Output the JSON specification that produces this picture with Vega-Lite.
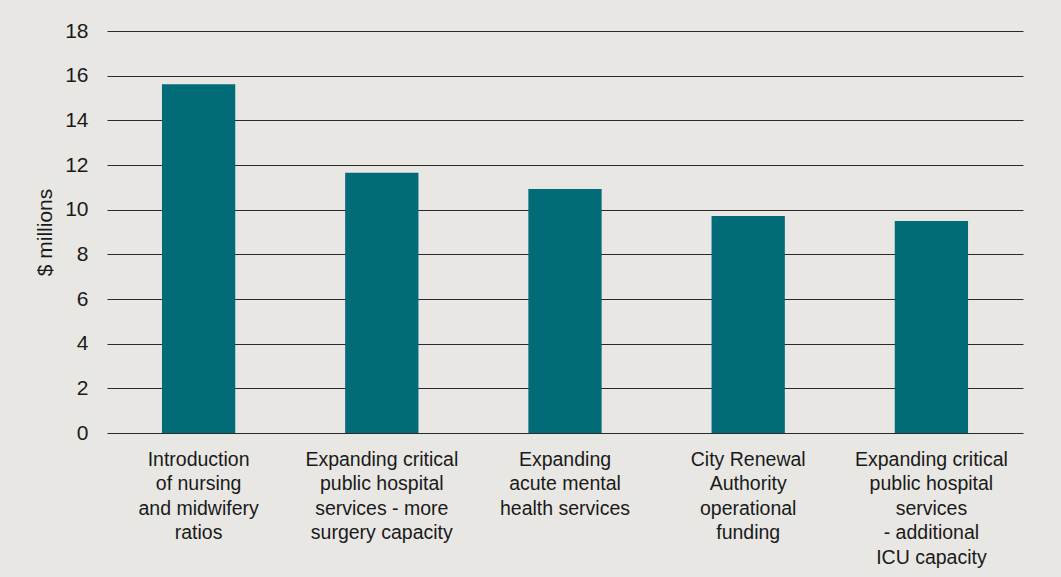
{
  "$schema": "https://vega.github.io/schema/vega-lite/v6.json",
  "width": 916,
  "height": 402,
  "autosize": {"type": "none"},
  "padding": {"left": 107, "top": 31, "right": 38, "bottom": 144},
  "background": "#e8e7e3",
  "data": {
    "values": [
      {"label": "Introduction|of nursing|and midwifery|ratios", "value": 15.62},
      {"label": "Expanding critical|public hospital|services - more|surgery capacity", "value": 11.65},
      {"label": "Expanding|acute mental|health services", "value": 10.92},
      {"label": "City Renewal|Authority|operational|funding", "value": 9.72},
      {"label": "Expanding critical|public hospital|services|- additional|ICU capacity", "value": 9.49}
    ]
  },
  "mark": {"type": "bar", "color": "#016b77"},
  "encoding": {
    "x": {
      "field": "label",
      "type": "nominal",
      "sort": null,
      "scale": {"paddingInner": 0.6, "paddingOuter": 0.3},
      "axis": {
        "title": null,
        "labelAngle": 0,
        "labelExpr": "split(datum.value, '|')",
        "labelFont": "Liberation Sans",
        "labelFontSize": 19.5,
        "labelColor": "#1a1a1a",
        "labelLineHeight": 24.5,
        "labelPadding": 17,
        "labelBaseline": "top",
        "labelLimit": 300,
        "domain": false,
        "ticks": false,
        "grid": false
      }
    },
    "y": {
      "field": "value",
      "type": "quantitative",
      "scale": {"domain": [0, 18], "nice": false},
      "axis": {
        "title": "$ millions",
        "titleFont": "Liberation Sans",
        "titleFontSize": 21,
        "titleFontWeight": "normal",
        "titleColor": "#1a1a1a",
        "titlePadding": 9,
        "values": [0, 2, 4, 6, 8, 10, 12, 14, 16, 18],
        "labelFont": "Liberation Sans",
        "labelFontSize": 21,
        "labelColor": "#1a1a1a",
        "labelPadding": 19,
        "domain": false,
        "ticks": false,
        "grid": true,
        "gridColor": "#2a2a2a",
        "gridWidth": 1,
        "gridOpacity": 1
      }
    }
  },
  "config": {"view": {"stroke": null}}
}
